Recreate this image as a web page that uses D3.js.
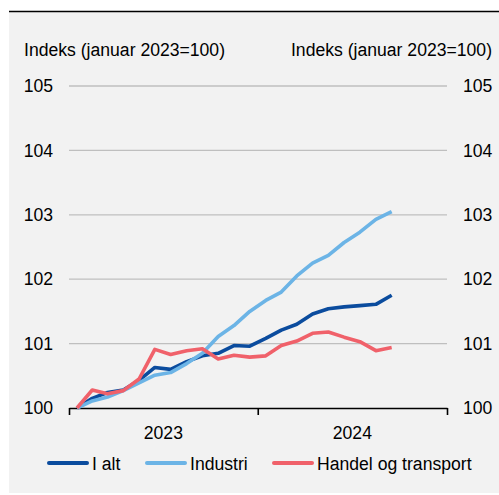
<!DOCTYPE html>
<html>
<head>
<meta charset="utf-8">
<script src="https://cdn.jsdelivr.net/npm/d3@7"></script>
<style>
  body { margin: 0; background: #fff; }
  svg { display: block; font-family: "Liberation Sans", Arial, sans-serif; }
</style>
</head>
<body>
<div id="chart"></div>
<script>
// monthly index, januar 2023 = 100, jan 2023 - sep 2024
var months = d3.range(21).map(function(i) { return new Date(2023, i, 1); });
var iAlt = [100, 100.15, 100.24, 100.28, 100.43, 100.63, 100.60, 100.72, 100.81, 100.85, 100.97,
            100.96, 101.08, 101.21, 101.30, 101.46, 101.54, 101.57, 101.59, 101.61, 101.75];
var industri = [100, 100.11, 100.17, 100.27, 100.39, 100.51, 100.55, 100.69, 100.85, 101.11, 101.28,
                101.50, 101.67, 101.80, 102.05, 102.25, 102.37, 102.57, 102.73, 102.93, 103.05];
var handel = [100, 100.28, 100.22, 100.27, 100.45, 100.91, 100.83, 100.89, 100.92, 100.76, 100.82,
              100.79, 100.81, 100.97, 101.04, 101.16, 101.18, 101.10, 101.03, 100.89, 100.94];
var yTicks = [100, 101, 102, 103, 104, 105];
var years = [2023, 2024];

var series = [
  { name: "I alt", values: iAlt, color: "#0b4c9e" },
  { name: "Industri", values: industri, color: "#6cb4e6" },
  { name: "Handel og transport", values: handel, color: "#f0616a" }
];

var width = 499, height = 495;
var svg = d3.select("#chart").append("svg")
    .attr("width", width)
    .attr("height", height);

// panel
svg.append("rect")
    .attr("x", 9).attr("y", 12)
    .attr("width", width - 9).attr("height", 481)
    .attr("fill", "#f2f2f2");
svg.append("line")
    .attr("x1", 9).attr("x2", width)
    .attr("y1", 11.5).attr("y2", 11.5)
    .attr("stroke", "#000").attr("stroke-width", 1.5);

var plotL = 69, plotR = 447, plotT = 86, plotB = 408;

var x = d3.scaleTime()
    .domain([new Date(2023, 0, 1), new Date(2025, 0, 1)])
    .range([plotL, plotR]);
var y = d3.scaleLinear().domain([100, 105]).range([plotB, plotT]);

// month centre
function mx(d) {
  var next = new Date(d.getFullYear(), d.getMonth() + 1, 1);
  return (x(d) + x(next)) / 2;
}

// grid
svg.append("g").selectAll("line")
    .data(yTicks.filter(function(d) { return d > 100; }))
  .enter().append("line")
    .attr("x1", plotL).attr("x2", plotR)
    .attr("y1", function(d) { return y(d); })
    .attr("y2", function(d) { return y(d); })
    .attr("stroke", "#bfbfbf").attr("stroke-width", 1.3);

// y labels both sides
var fs = "17.6px";
svg.append("g").selectAll("text")
    .data(yTicks)
  .enter().append("text")
    .attr("x", 53).attr("y", function(d) { return y(d); })
    .attr("dy", "0.35em")
    .attr("text-anchor", "end")
    .style("font-size", fs)
    .text(function(d) { return d; });
svg.append("g").selectAll("text")
    .data(yTicks)
  .enter().append("text")
    .attr("x", 463).attr("y", function(d) { return y(d); })
    .attr("dy", "0.35em")
    .style("font-size", fs)
    .text(function(d) { return d; });

svg.append("text").attr("x", 24).attr("y", 56)
    .style("font-size", fs).text("Indeks (januar 2023=100)");
svg.append("text").attr("x", 492).attr("y", 56)
    .attr("text-anchor", "end")
    .style("font-size", fs).text("Indeks (januar 2023=100)");

// x axis
var xAxis = svg.append("g")
    .attr("transform", "translate(0," + plotB + ")")
    .call(d3.axisBottom(x)
      .tickValues([new Date(2023, 0, 1), new Date(2024, 0, 1), new Date(2025, 0, 1)])
      .tickSize(7)
      .tickSizeOuter(0)
      .tickFormat(""));
xAxis.select(".domain").attr("stroke", "#000").attr("stroke-width", 1.6);
xAxis.selectAll(".tick line").attr("stroke", "#000").attr("stroke-width", 1.6);

svg.append("g").selectAll("text")
    .data(years)
  .enter().append("text")
    .attr("x", function(d) { return (x(new Date(d, 0, 1)) + x(new Date(d + 1, 0, 1))) / 2; })
    .attr("y", 439)
    .attr("text-anchor", "middle")
    .style("font-size", fs)
    .text(function(d) { return d; });

// lines
var line = d3.line()
    .x(function(d, i) { return mx(months[i]); })
    .y(function(d) { return y(d); });

svg.append("g").selectAll("path")
    .data(series)
  .enter().append("path")
    .attr("d", function(d) { return line(d.values); })
    .attr("fill", "none")
    .attr("stroke", function(d) { return d.color; })
    .attr("stroke-width", 3.6)
    .attr("stroke-linejoin", "round");

// legend
var legendX = [48, 146, 273];
var lg = svg.append("g").selectAll("g")
    .data(series)
  .enter().append("g")
    .attr("transform", function(d, i) { return "translate(" + legendX[i] + ",463)"; });
lg.append("line")
    .attr("x1", 1).attr("x2", 39)
    .attr("stroke", function(d) { return d.color; })
    .attr("stroke-width", 4)
    .attr("stroke-linecap", "round");
lg.append("text")
    .attr("x", 44).attr("y", 7)
    .style("font-size", fs)
    .text(function(d) { return d.name; });
</script>
</body>
</html>
